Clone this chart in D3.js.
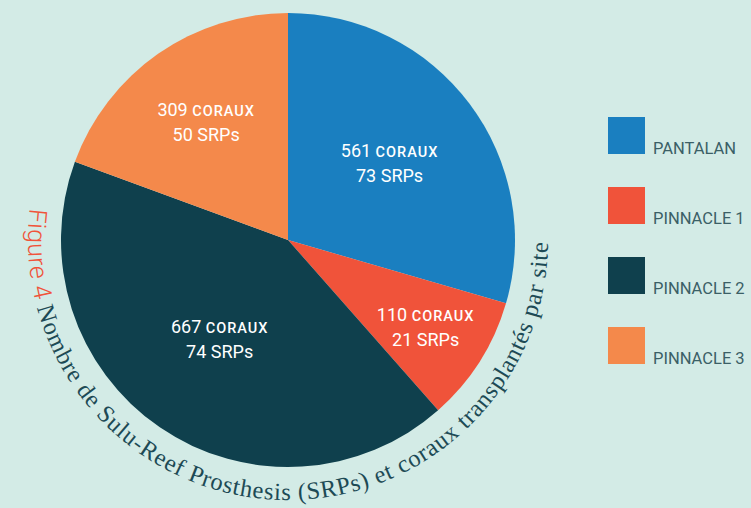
<!DOCTYPE html>
<html>
<head>
<meta charset="utf-8">
<script src="https://cdn.jsdelivr.net/npm/d3@7"></script>
<style>
  html, body { margin: 0; padding: 0; background: #d3ebe6; }
  #chart { width: 751px; height: 508px; }
</style>
</head>
<body>
<div id="chart"></div>
<script>
// ── Data ───────────────────────────────────────────────────────────────────
const sites = ["PANTALAN", "PINNACLE 1", "PINNACLE 2", "PINNACLE 3"];
const shares = [29.5, 9.0, 42.1, 19.4]; // % of the pie
const coraux = [561, 110, 667, 309];
const srps = [73, 21, 74, 50];
const colours = ["#1a7fc0", "#f0533a", "#0f404d", "#f4894b"];
const captionLead = "Figure 4";
const captionText = "Nombre de Sulu-Reef Prosthesis (SRPs) et coraux transplantés par site";

function renderPie(selector) {
  const data = sites.map((s, i) => ({
    site: s,
    share: shares[i],
    coraux: coraux[i],
    srps: srps[i],
  }));

  // ── Container ──────────────────────────────────────────────────────────
  const width = 751;
  const height = 508;
  const cx = 288;
  const cy = 240;
  const radius = 227;

  const svg = d3
    .select(selector)
    .append("svg")
    .attr("width", width)
    .attr("height", height)
    .attr("viewBox", `0 0 ${width} ${height}`);

  svg.append("rect").attr("width", width).attr("height", height).attr("fill", "#d3ebe6");

  const color = d3.scaleOrdinal().domain(sites).range(colours);

  // ── Pie ────────────────────────────────────────────────────────────────
  const pie = d3.pie().sort(null).value((d) => d.share);
  const arc = d3.arc().innerRadius(0).outerRadius(radius);
  const arcs = pie(data);

  const g = svg.append("g").attr("transform", `translate(${cx},${cy})`);

  g.selectAll("path.slice")
    .data(arcs)
    .join("path")
    .attr("class", "slice")
    .attr("d", arc)
    .attr("fill", (d) => color(d.data.site));

  // ── Slice labels ───────────────────────────────────────────────────────
  const labelRadius = { "PANTALAN": 127, "PINNACLE 1": 163, "PINNACLE 2": 121, "PINNACLE 3": 143 };

  const labels = g
    .selectAll("g.label")
    .data(arcs)
    .join("g")
    .attr("class", "label")
    .attr("transform", (d) => {
      const a = (d.startAngle + d.endAngle) / 2;
      const r = labelRadius[d.data.site];
      return `translate(${r * Math.sin(a)},${-r * Math.cos(a)})`;
    });

  const line1 = labels
    .append("text")
    .attr("text-anchor", "middle")
    .attr("y", -6.5)
    .attr("fill", "#ffffff")
    .style("font-family", "Roboto, sans-serif")
    .style("font-weight", 400);
  line1.append("tspan").style("font-size", "18px").text((d) => d.data.coraux + " ");
  line1
    .append("tspan")
    .style("font-size", "14.5px")
    .style("font-weight", 500)
    .style("letter-spacing", "1px")
    .text("CORAUX");

  labels
    .append("text")
    .attr("text-anchor", "middle")
    .attr("y", 18.5)
    .attr("fill", "#ffffff")
    .style("font-family", "Roboto, sans-serif")
    .style("font-weight", 400)
    .style("font-size", "18px")
    .text((d) => `${d.data.srps} SRPs`);

  // ── Curved caption ─────────────────────────────────────────────────────
  const captionR = 260;
  const toRad = (deg) => (deg * Math.PI) / 180;
  const capPath = d3.path();
  capPath.arc(cx, cy, captionR, toRad(187), toRad(-5), true);

  svg
    .append("defs")
    .append("path")
    .attr("id", "captionArc")
    .attr("d", capPath.toString());

  const caption = svg
    .append("text")
    .append("textPath")
    .attr("href", "#captionArc")
    .attr("startOffset", 0);

  caption
    .append("tspan")
    .style("font-family", "Roboto, sans-serif")
    .style("font-weight", 300)
    .style("font-size", "25px")
    .style("letter-spacing", "0.6px")
    .attr("fill", "#f0533a")
    .text(captionLead + " ");

  const body = caption
    .append("tspan")
    .style("font-family", "'Liberation Serif', serif")
    .style("font-size", "24.5px")
    .attr("fill", "#1d4a55")
    .text(captionText);

  // spread the serif part so that it ends near the right side of the pie
  const bodyTarget = toRad(163 + 1.5) * captionR;
  const bodyLen = body.node().getComputedTextLength();
  const spacing = Math.max(0, (bodyTarget - bodyLen) / captionText.length);
  body.style("letter-spacing", `${spacing}px`);

  // ── Legend ─────────────────────────────────────────────────────────────
  const legend = svg.append("g").attr("class", "legend").attr("transform", "translate(608,117)");

  const rows = legend
    .selectAll("g")
    .data(sites)
    .join("g")
    .attr("transform", (d, i) => `translate(0,${i * 70})`);

  rows.append("rect").attr("width", 37).attr("height", 37).attr("fill", (d) => color(d));

  rows
    .append("text")
    .attr("x", 45)
    .attr("y", 36.5)
    .attr("fill", "#3b5f66")
    .style("font-family", "Roboto, sans-serif")
    .style("font-size", "16.5px")
    .style("font-weight", 400)
    .text((d) => d);
}

renderPie("#chart");
</script>
</body>
</html>
